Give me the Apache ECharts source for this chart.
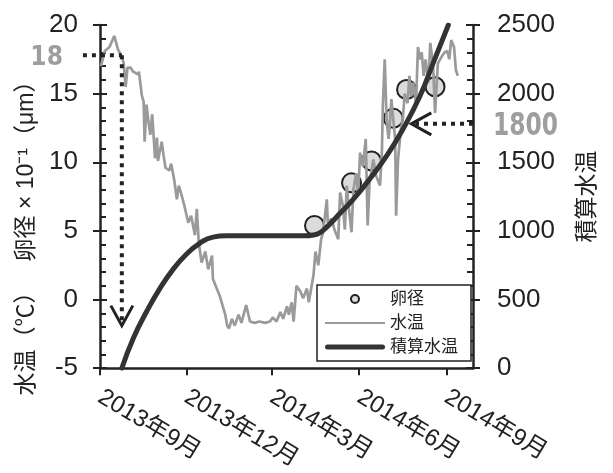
<!DOCTYPE html>
<html><head><meta charset="utf-8">
<script src="https://cdn.jsdelivr.net/npm/echarts@6/dist/echarts.min.js"></script>
<style>html,body{margin:0;padding:0;background:#fff}#c{width:613px;height:473px}</style>
</head><body><div id="c"></div>
<script>
// x values are days counted from 2013-09-01
const tickDays = [0, 91, 181, 273, 365];
const tickLabels = ['2013年9月', '2013年12月', '2014年3月', '2014年6月', '2014年9月'];
const xMax = 393;

const tempDays = [1,5,10,15,19,23,25,27,29,32,35,37,40,41,44,46,47,49,51,53,55,58,60,61,65,67,69,73,75,78,81,83,86,89,93,96,100,102,104,107,111,114,118,119,123,126,129,132,134,136,139,142,146,149,154,158,163,168,174,179,182,186,190,193,197,199,202,204,207,211,214,218,220,223,225,227,230,233,235,239,240,244,247,251,253,256,258,260,262,265,267,270,272,274,277,280,282,284,288,291,295,297,298,300,302,304,305,307,309,311,312,314,317,319,321,324,326,328,330,333,335,337,339,341,343,346,348,351,353,356,360,363,366,368,370,372,373,375,377];
const tempValues = [17.0,18.1,18.4,19.2,18.2,17.7,17.2,15.5,16.9,16.9,16.6,16.7,16.4,16.6,14.9,14.4,11.5,14.2,13.0,12.0,13.5,10.3,11.8,10.1,11.5,10.5,9.6,9.4,9.9,8.8,7.3,8.3,7.6,6.8,5.6,6.1,4.7,6.6,4.2,2.7,3.5,2.2,3.2,1.5,0.8,0.3,-0.4,-1.1,-1.9,-2.1,-1.4,-1.9,-1.1,-1.7,-0.4,-1.6,-1.7,-1.6,-1.7,-1.6,-1.3,-1.6,-0.9,-1.4,-0.5,-1.1,-0.2,-1.6,1.0,0.6,0.1,0.8,-0.2,1.0,1.8,3.5,2.5,4.4,4.9,7.3,5.6,5.9,5.1,4.4,7.8,6.8,5.1,8.3,6.8,4.9,8.0,9.2,7.6,10.7,9.7,11.7,5.4,8.5,10.2,9.0,8.3,10.7,14.1,17.5,13.1,11.7,12.4,14.6,13.1,11.7,6.1,10.2,12.4,13.1,15.0,14.3,16.3,14.8,15.8,14.3,18.4,17.5,18.0,16.3,17.5,15.8,18.7,17.0,13.6,17.2,17.7,18.0,18.1,17.5,18.9,19.0,18.4,16.7,16.3];

const eggDays = [226, 265, 286, 309, 323, 353];
const eggValues = [5.4, 8.5, 10.1, 13.2, 15.3, 15.5];

const sumDays = [23,35,49,63,77,91,105,119,133,215,225,232,240,249,267,284,302,319,337,351,367];
const sumValues = [0,217,411,580,720,830,910,955,964,964,970,988,1035,1100,1232,1377,1546,1739,1981,2222,2500];

// annotations
const startDay = 23, startTemp = 17.8, startArrowTemp = -1.9, startLineFromDay = -18;
const matureDay = 328, matureSum = 1780;
const startLabel = '18', matureLabel = '1800';

const FONT = "'Liberation Sans', 'Noto Sans CJK JP', sans-serif";
const DARK = '#222';

const chart = echarts.init(document.getElementById('c'), null, {renderer: 'canvas'});

function innerAxis(pos, min, max, interval) {
  return {
    type: 'value', position: pos, min: min, max: max, interval: interval,
    axisLine: {show: false, onZero: false},
    axisTick: {show: true, inside: true, length: 7, lineStyle: {color: DARK, width: 2}},
    minorTick: {show: true, splitNumber: 5, length: 6, lineStyle: {color: DARK, width: 2}},
    axisLabel: {show: false}, splitLine: {show: false}, minorSplitLine: {show: false}
  };
}

const option = {
  animation: false,
  backgroundColor: '#fff',
  textStyle: {fontFamily: FONT},
  grid: {left: 100, right: 140, top: 25, bottom: 103, containLabel: false},
  xAxis: {
    type: 'value', min: 0, max: xMax,
    axisLine: {onZero: false, lineStyle: {color: DARK, width: 2.5}},
    axisTick: {customValues: tickDays, length: 7, lineStyle: {color: DARK, width: 2}},
    axisLabel: {customValues: tickDays, formatter: v => tickLabels[tickDays.indexOf(v)],
      rotate: -31, margin: 27, fontSize: 24, color: DARK, fontFamily: FONT},
    splitLine: {show: false}
  },
  yAxis: [
    {
      type: 'value', position: 'left', min: -5, max: 20, interval: 5,
      axisLine: {show: true, onZero: false, lineStyle: {color: DARK, width: 2.5}},
      axisTick: {show: true, length: 7, lineStyle: {color: DARK, width: 2}},
      axisLabel: {fontSize: 26, color: DARK, margin: 22, fontFamily: FONT, formatter: v => String(v)},
      splitLine: {show: false},
      name: '水温（℃）   卵径 × 10⁻¹（μm）', nameLocation: 'middle', nameGap: 60, nameRotate: 90,
      nameTextStyle: {fontSize: 23, color: DARK, fontFamily: FONT, padding: [0, 72, 0, 0]}
    },
    {
      type: 'value', position: 'right', min: 0, max: 2500, interval: 500,
      axisLine: {show: true, onZero: false, lineStyle: {color: DARK, width: 2.5}},
      axisTick: {show: true, length: 7, lineStyle: {color: DARK, width: 2}},
      axisLabel: {fontSize: 26, color: DARK, margin: 24, fontFamily: FONT, formatter: v => String(v)},
      splitLine: {show: false},
      name: '積算水温', nameLocation: 'middle', nameGap: 103, nameRotate: 90,
      nameTextStyle: {fontSize: 23, color: DARK, fontFamily: FONT}
    },
    innerAxis('left', -5, 20, 5),
    innerAxis('right', 0, 2500, 500)
  ],
  legend: {
    orient: 'vertical', left: 317, top: 285,
    padding: [5, 13, 5, 8], itemGap: 6, itemWidth: 60, itemHeight: 8,
    backgroundColor: '#fff', borderColor: DARK, borderWidth: 1.5,
    selectedMode: false,
    textStyle: {fontSize: 17, color: DARK, fontFamily: FONT, lineHeight: 18},
    data: [
      {name: '卵径', icon: 'circle'},
      {name: '水温', icon: 'path://M0,0H60V2H0Z'},
      {name: '積算水温', icon: 'path://M2.5,0H57.5A2.5,2.5,0,0,1,57.5,5H2.5A2.5,2.5,0,0,1,2.5,0Z'}
    ]
  },
  series: [
    {
      name: '卵径', type: 'scatter', xAxisIndex: 0, yAxisIndex: 0, z: 1,
      symbol: 'circle', symbolSize: 19,
      itemStyle: {color: '#dcdcdc', borderColor: DARK, borderWidth: 2, opacity: 1},
      data: eggDays.map((d, i) => [d, eggValues[i]])
    },
    {
      name: '水温', type: 'line', xAxisIndex: 0, yAxisIndex: 0, z: 2,
      symbol: 'none', showSymbol: false,
      lineStyle: {color: '#9a9a9a', width: 2.7}, itemStyle: {color: '#9a9a9a'},
      data: tempDays.map((d, i) => [d, tempValues[i]])
    },
    {
      name: '積算水温', type: 'line', xAxisIndex: 0, yAxisIndex: 1, z: 3,
      symbol: 'none', showSymbol: false, smooth: 0.5,
      lineStyle: {color: '#333', width: 5, cap: 'round'}, itemStyle: {color: '#333'},
      data: sumDays.map((d, i) => [d, sumValues[i]])
    }
  ]
};
chart.setOption(option);

const P = (d, v, yi) => chart.convertToPixel({xAxisIndex: 0, yAxisIndex: yi}, [d, v]);
const h1a = P(startLineFromDay, startTemp, 0), h1b = P(startDay, startTemp, 0);
const v1b = P(startDay, startArrowTemp, 0);
const h2a = P(xMax, matureSum, 1), h2b = P(matureDay, matureSum, 1);
const dotted = {stroke: DARK, lineWidth: 4, lineDash: [4, 5], fill: null};
const solid = {stroke: DARK, lineWidth: 3, fill: null};
const annoFont = {fontFamily: "'DejaVu Sans Condensed', 'Liberation Sans Narrow', sans-serif", fontWeight: 'bold', fill: '#9e9e9e', fontSize: 26};

chart.setOption({
  graphic: [
    {type: 'polyline', z: 20, shape: {points: [h1a, h1b]}, style: dotted},
    {type: 'polyline', z: 20, shape: {points: [h1b, [v1b[0], v1b[1] - 4]]}, style: dotted},
    {type: 'polyline', z: 20, shape: {points: [[v1b[0] - 11, v1b[1] - 20], v1b, [v1b[0] + 11, v1b[1] - 20]]}, style: solid},
    {type: 'polyline', z: 20, shape: {points: [h2a, [h2b[0] + 4, h2b[1]]]}, style: dotted},
    {type: 'polyline', z: 20, shape: {points: [[h2b[0] + 20, h2b[1] - 11], h2b, [h2b[0] + 20, h2b[1] + 11]]}, style: solid},
    {type: 'text', z: 20, x: h1a[0] - 20, y: h1a[1] + 3,
      style: Object.assign({text: startLabel, x: 0, y: 0, align: 'right', verticalAlign: 'middle'}, annoFont)},
    {type: 'text', z: 20, x: h2a[0] + 20, y: h2a[1] + 3, scaleY: 1.2,
      style: Object.assign({text: matureLabel, x: 0, y: 0, align: 'left', verticalAlign: 'middle'}, annoFont)}
  ]
});
</script>
</body></html>
